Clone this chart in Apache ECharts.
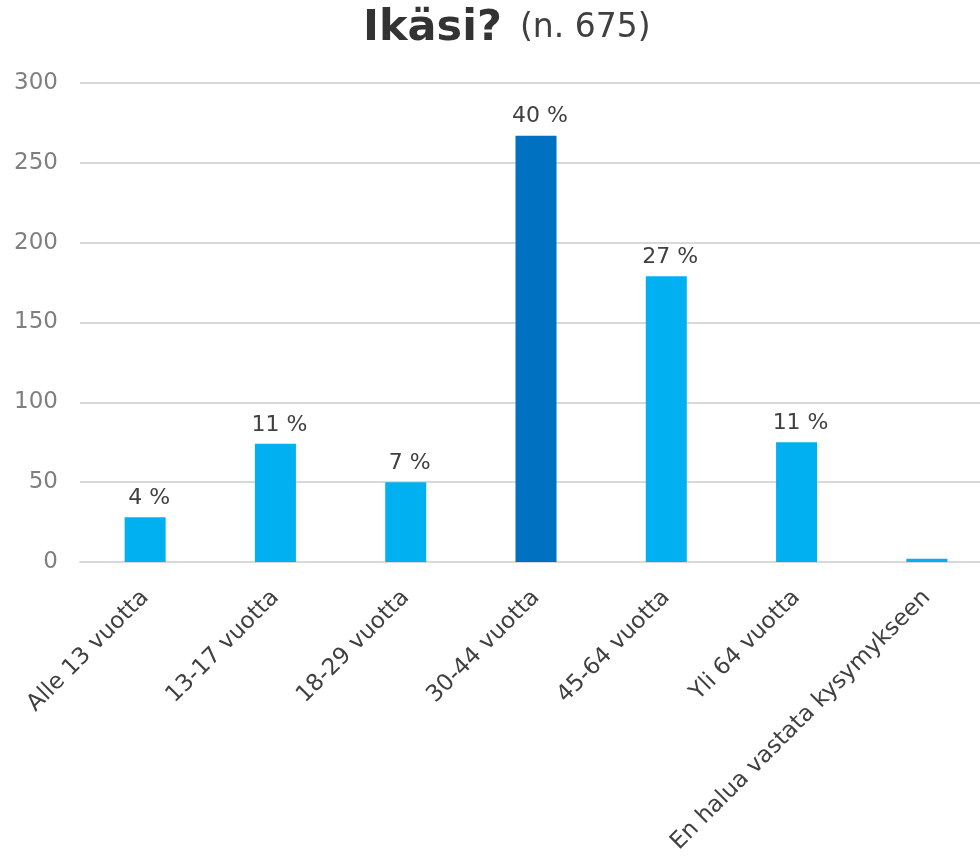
<!DOCTYPE html>
<html><head><meta charset="utf-8">
<script src="https://cdn.jsdelivr.net/npm/echarts@6/dist/echarts.min.js"></script>
<style>html,body{margin:0;padding:0;background:#fff;overflow:hidden}#c{width:992px;height:861px}</style>
</head><body><div id="c"></div>
<script>
const categories = ['Alle 13 vuotta','13-17 vuotta','18-29 vuotta','30-44 vuotta','45-64 vuotta','Yli 64 vuotta','En halua vastata kysymykseen'];
const counts = [28, 74, 50, 267, 179, 75, 2];
const percentLabels = ['4 %','11 %','7 %','40 %','27 %','11 %',''];
const yTicks = [0, 50, 100, 150, 200, 250, 300];
const titleMain = 'Ikäsi?';
const titleSub = '(n. 675)';
const highlightIndex = 3;

const font = 'DejaVu Sans';
const chart = echarts.init(document.getElementById('c'));
chart.setOption({
  animation: false,
  title: {
    text: '{a|' + titleMain + '}{b|' + titleSub + '}',
    left: 358, top: 2,
    textStyle: {
      fontWeight: 'normal',
      rich: {
        a: {fontFamily: font, fontWeight: 'bold', fontSize: 43, color: '#333333'},
        b: {fontFamily: font, fontWeight: 'normal', fontSize: 33, color: '#404040', padding: [0, 0, 0, 18]}
      }
    }
  },
  grid: {left: 80, top: 83, bottom: 299, right: 0, containLabel: false},
  xAxis: {
    type: 'category', data: categories,
    axisLine: {show: true, lineStyle: {color: '#d9d9d9', width: 2}},
    axisTick: {show: false},
    axisLabel: {rotate: 45, interval: 0, margin: 32, fontFamily: font, fontSize: 23, color: '#404040'}
  },
  yAxis: {
    type: 'value', min: yTicks[0], max: yTicks[yTicks.length - 1], interval: yTicks[1] - yTicks[0],
    axisLine: {show: false}, axisTick: {show: false},
    splitLine: {lineStyle: {color: '#d9d9d9', width: 2}},
    axisLabel: {margin: 22, fontFamily: font, fontSize: 23, color: '#7f7f7f'}
  },
  series: [{
    type: 'bar', barWidth: 41,
    data: counts.map((v, i) => ({
      value: v,
      itemStyle: {color: i === highlightIndex ? '#0070C0' : '#00B0F0'},
      label: {show: percentLabels[i] !== '', formatter: percentLabels[i]}
    })),
    label: {position: 'top', distance: 8, offset: [4, 0], fontFamily: font, fontSize: 22, color: '#404040'}
  }]
});
</script></body></html>
